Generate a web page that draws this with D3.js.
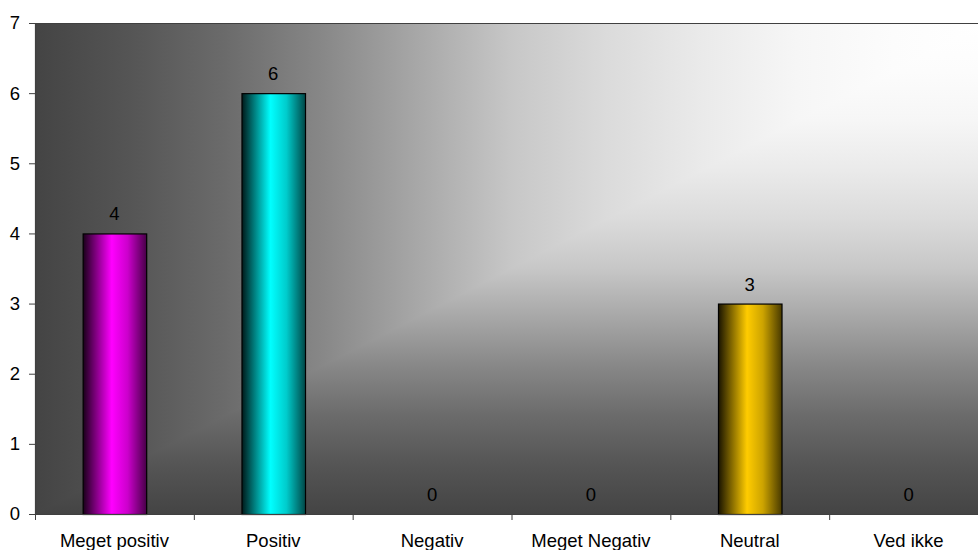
<!DOCTYPE html>
<html>
<head>
<meta charset="utf-8">
<script src="https://cdn.jsdelivr.net/npm/d3@7"></script>
<style>
  html, body { margin: 0; padding: 0; background: #fff; }
  svg { display: block; }
  text { font-family: "Liberation Sans", Arial, sans-serif; fill: #000; }
</style>
</head>
<body>
<svg id="chart" width="978" height="550"></svg>
<script>
// Answer categories and counts
const categories = ["Meget positiv", "Positiv", "Negativ", "Meget Negativ", "Neutral", "Ved ikke"];
const counts = [4, 6, 0, 0, 3, 0];
const barColors = ["#ff00ff", "#00ffff", "#9999ff", "#993366", "#ffcc00", "#ff8080"];
const yTicks = [0, 1, 2, 3, 4, 5, 6, 7];

const width = 978, height = 550;
const margin = { left: 35, top: 23, right: -10, bottom: 36 };
const x0 = margin.left, x1 = width - margin.right;
const y0 = margin.top, y1 = height - margin.bottom;
const fontSize = 18.5;

const svg = d3.select("#chart");
const defs = svg.append("defs");

const x = d3.scaleBand().domain(categories).range([x0, x1]).paddingInner(0.6).paddingOuter(0.3);
const xEdge = d3.scaleBand().domain(categories).range([x0, x1]).padding(0);
const y = d3.scaleLinear().domain([0, 7]).range([y1, y0]);

// Plot background: "from corner" shading, white at the top-right corner.
// Eased ramp from dark grey to white.
const dark = d3.rgb("#444444");
const ramp = [[0, 0], [0.1, 0.09], [0.2, 0.21], [0.3, 0.36], [0.4, 0.53], [0.5, 0.7],
              [0.6, 0.81], [0.7, 0.89], [0.8, 0.95], [0.9, 0.985], [1, 1]];
const mix = d3.interpolateRgb(dark, "#ffffff");
function addRamp(id, ax1, ay1, ax2, ay2) {
  const g = defs.append("linearGradient").attr("id", id)
    .attr("gradientUnits", "userSpaceOnUse")
    .attr("x1", ax1).attr("y1", ay1).attr("x2", ax2).attr("y2", ay2);
  ramp.forEach(([o, f]) => g.append("stop").attr("offset", o).attr("stop-color", mix(f)));
}
addRamp("bgH", x0, 0, x1, 0);
addRamp("bgV", 0, y1, 0, y0);

const bg = svg.append("g");
bg.append("rect")
  .attr("x", x0).attr("y", y0).attr("width", x1 - x0).attr("height", y1 - y0)
  .attr("fill", "url(#bgV)");
bg.append("path")
  .attr("d", `M${x0},${y0}L${x1},${y0}L${x0},${y1}Z`)
  .attr("fill", "url(#bgH)");

// Top border of plot area
svg.append("line")
  .attr("x1", x0).attr("x2", x1).attr("y1", y0 + 0.5).attr("y2", y0 + 0.5)
  .attr("stroke", "#404040").attr("stroke-width", 1.2);

// Cylinder-like shading for each bar
function shade(hex, k) {
  const c = d3.rgb(hex);
  return d3.rgb(c.r * k, c.g * k, c.b * k).formatHex();
}
barColors.forEach((c, i) => {
  const g = defs.append("linearGradient").attr("id", "bar" + i)
    .attr("x1", 0).attr("y1", 0).attr("x2", 1).attr("y2", 0);
  g.append("stop").attr("offset", 0).attr("stop-color", shade(c, 0.1));
  g.append("stop").attr("offset", 0.2).attr("stop-color", shade(c, 0.5));
  g.append("stop").attr("offset", 0.45).attr("stop-color", c);
  g.append("stop").attr("offset", 0.7).attr("stop-color", shade(c, 0.8));
  g.append("stop").attr("offset", 1).attr("stop-color", shade(c, 0.28));
});

svg.append("g").selectAll("rect")
  .data(categories.map((c, i) => ({ c, v: counts[i], i })).filter(d => d.v > 0))
  .join("rect")
  .attr("x", d => x(d.c) + 0.5)
  .attr("y", d => y(d.v) + 0.5)
  .attr("width", x.bandwidth())
  .attr("height", d => y(0) - y(d.v))
  .attr("fill", d => "url(#bar" + d.i + ")")
  .attr("stroke", "#000").attr("stroke-width", 1.2);

// Value labels
svg.append("g").selectAll("text")
  .data(categories.map((c, i) => ({ c, v: counts[i] })))
  .join("text")
  .attr("x", d => x(d.c) + x.bandwidth() / 2)
  .attr("y", d => y(d.v) - 13)
  .attr("text-anchor", "middle")
  .attr("font-size", fontSize)
  .text(d => d.v);

// Y axis
const yAxis = svg.append("g")
  .attr("transform", `translate(${x0},0)`)
  .call(d3.axisLeft(y).tickValues(yTicks).tickSize(6).tickPadding(9).tickFormat(d3.format("d")));
yAxis.selectAll("text").attr("font-size", fontSize).style("font-family", "Liberation Sans, Arial, sans-serif").attr("fill", "#000");
yAxis.select(".domain").attr("stroke", "#404040").attr("stroke-width", 1.2);
yAxis.selectAll(".tick line").attr("stroke", "#404040");

// X axis: ticks at category boundaries, labels centred
const xAxis = svg.append("g").attr("transform", `translate(0,${y1})`);
xAxis.append("line")
  .attr("x1", x0).attr("x2", x1).attr("y1", 0.5).attr("y2", 0.5)
  .attr("stroke", "#404040").attr("stroke-width", 1.2);
xAxis.selectAll("line.tk")
  .data(categories)
  .join("line").attr("class", "tk")
  .attr("x1", d => xEdge(d) + 0.5).attr("x2", d => xEdge(d) + 0.5)
  .attr("y1", 0).attr("y2", 6)
  .attr("stroke", "#404040");
xAxis.selectAll("text")
  .data(categories)
  .join("text")
  .attr("x", d => xEdge(d) + xEdge.bandwidth() / 2)
  .attr("y", 33)
  .attr("text-anchor", "middle")
  .attr("font-size", fontSize)
  .text(d => d);
</script>
</body>
</html>
